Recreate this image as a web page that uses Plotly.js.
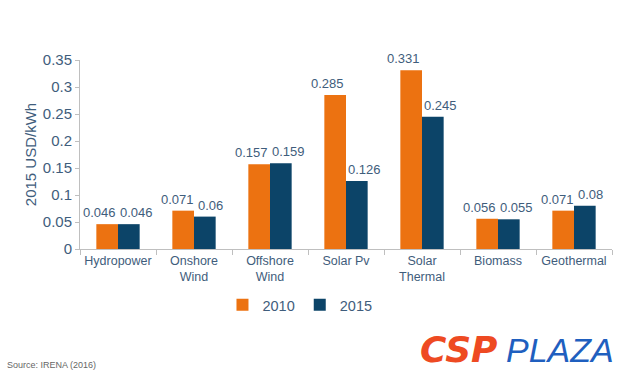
<!DOCTYPE html>
<html><head><meta charset="utf-8">
<script src="https://cdn.plot.ly/plotly-3.0.1.min.js"></script>
<style>html,body{margin:0;padding:0;background:#fff;}#chart{width:620px;height:377px;}</style>
</head><body><div id="chart"></div>
<script>
const categories = ["Hydropower", "Onshore<br>Wind", "Offshore<br>Wind", "Solar Pv", "Solar<br>Thermal", "Biomass", "Geothermal"];
const values2010 = [0.046, 0.071, 0.157, 0.285, 0.331, 0.056, 0.071];
const values2015 = [0.046, 0.06, 0.159, 0.126, 0.245, 0.055, 0.08];
const yTicks = [0, 0.05, 0.1, 0.15, 0.2, 0.25, 0.3, 0.35];
const yTickLabels = ["0", "0.05", "0.1", "0.15", "0.2", "0.25", "0.3", "0.35"];

const textColor = "#3f5d7c";
const fontFam = "Liberation Sans, Arial, sans-serif";
const W = 620, H = 377;
const margin = {l: 80, r: 8, t: 60, b: 128};
const bargap = 0.43;
const labelSize = 13;

const traces = [
  {type: "bar", name: "2010", x: categories, y: values2010, marker: {color: "#ec7211"}},
  {type: "bar", name: "2015", x: categories, y: values2015, marker: {color: "#0c4468"}}
];

// value labels as annotations, pushed apart when two labels would collide
const plotW = W - margin.l - margin.r;
const catW = plotW / categories.length;
const barW = catW * (1 - bargap) / 2;
function estWidth(s) {
  let w = 0;
  for (const ch of s) w += (ch === "." ? 0.278 : 0.556);
  return w * labelSize;
}
const labelAnns = [];
categories.forEach((c, i) => {
  const t1 = String(values2010[i]), t2 = String(values2015[i]);
  const need = (estWidth(t1) + estWidth(t2)) / 2 + 5;
  const sep = Math.max(barW, need);
  const half = sep / 2;
  [[t1, values2010[i], -half], [t2, values2015[i], half]].forEach(([t, v, dx]) => {
    labelAnns.push({xref: "x", yref: "y", x: c, y: v, xshift: dx, yshift: 2,
      xanchor: "center", yanchor: "bottom", showarrow: false, text: t,
      font: {size: labelSize, color: textColor, family: fontFam}});
  });
});

const layout = {
  width: W, height: H,
  margin: margin,
  paper_bgcolor: "#fff", plot_bgcolor: "#fff",
  barmode: "group", bargap: bargap, bargroupgap: 0,
  font: {family: fontFam, color: textColor, size: 13},
  showlegend: true,
  legend: {orientation: "h", x: 0.4135, xanchor: "center", y: -0.296, yanchor: "middle",
           font: {size: 14.5, color: textColor}, itemwidth: 30, tracegroupgap: 0},
  xaxis: {showline: true, linecolor: "#bfbfbf", linewidth: 1, ticks: "outside", tickson: "boundaries",
          ticklen: 5, tickcolor: "#bfbfbf", tickangle: 0, tickfont: {size: 12.5, color: textColor},
          showgrid: false, fixedrange: true},
  yaxis: {range: [0, 0.35], tickvals: yTicks, ticktext: yTickLabels, showline: true, linecolor: "#bfbfbf",
          ticks: "outside", ticklen: 4, tickcolor: "#bfbfbf", showgrid: false, zeroline: false,
          tickfont: {size: 15, color: textColor},
          title: {text: "2015 USD/kWh", font: {size: 15, color: textColor}, standoff: 2}},
  annotations: labelAnns.concat([
    {xref: "paper", yref: "paper", x: -0.141, y: -0.614, xanchor: "left", yanchor: "middle", showarrow: false,
     text: "Source: IRENA (2016)", font: {size: 9, color: "#666666", family: fontFam}},
    {xref: "paper", yref: "paper", x: 0.636, y: -0.534, xanchor: "left", yanchor: "middle", showarrow: false,
     text: "<b><i>CSP</i></b>", font: {size: 36, color: "#ee4a22", family: "DejaVu Sans, sans-serif"}},
    {xref: "paper", yref: "paper", x: 0.797, y: -0.534, xanchor: "left", yanchor: "middle", showarrow: false,
     text: "<i>PLAZA</i>", font: {size: 34, color: "#1f5fbf", family: "Liberation Sans, sans-serif"}}
  ])
};

Plotly.newPlot("chart", traces, layout, {displayModeBar: false, staticPlot: true});
</script></body></html>
